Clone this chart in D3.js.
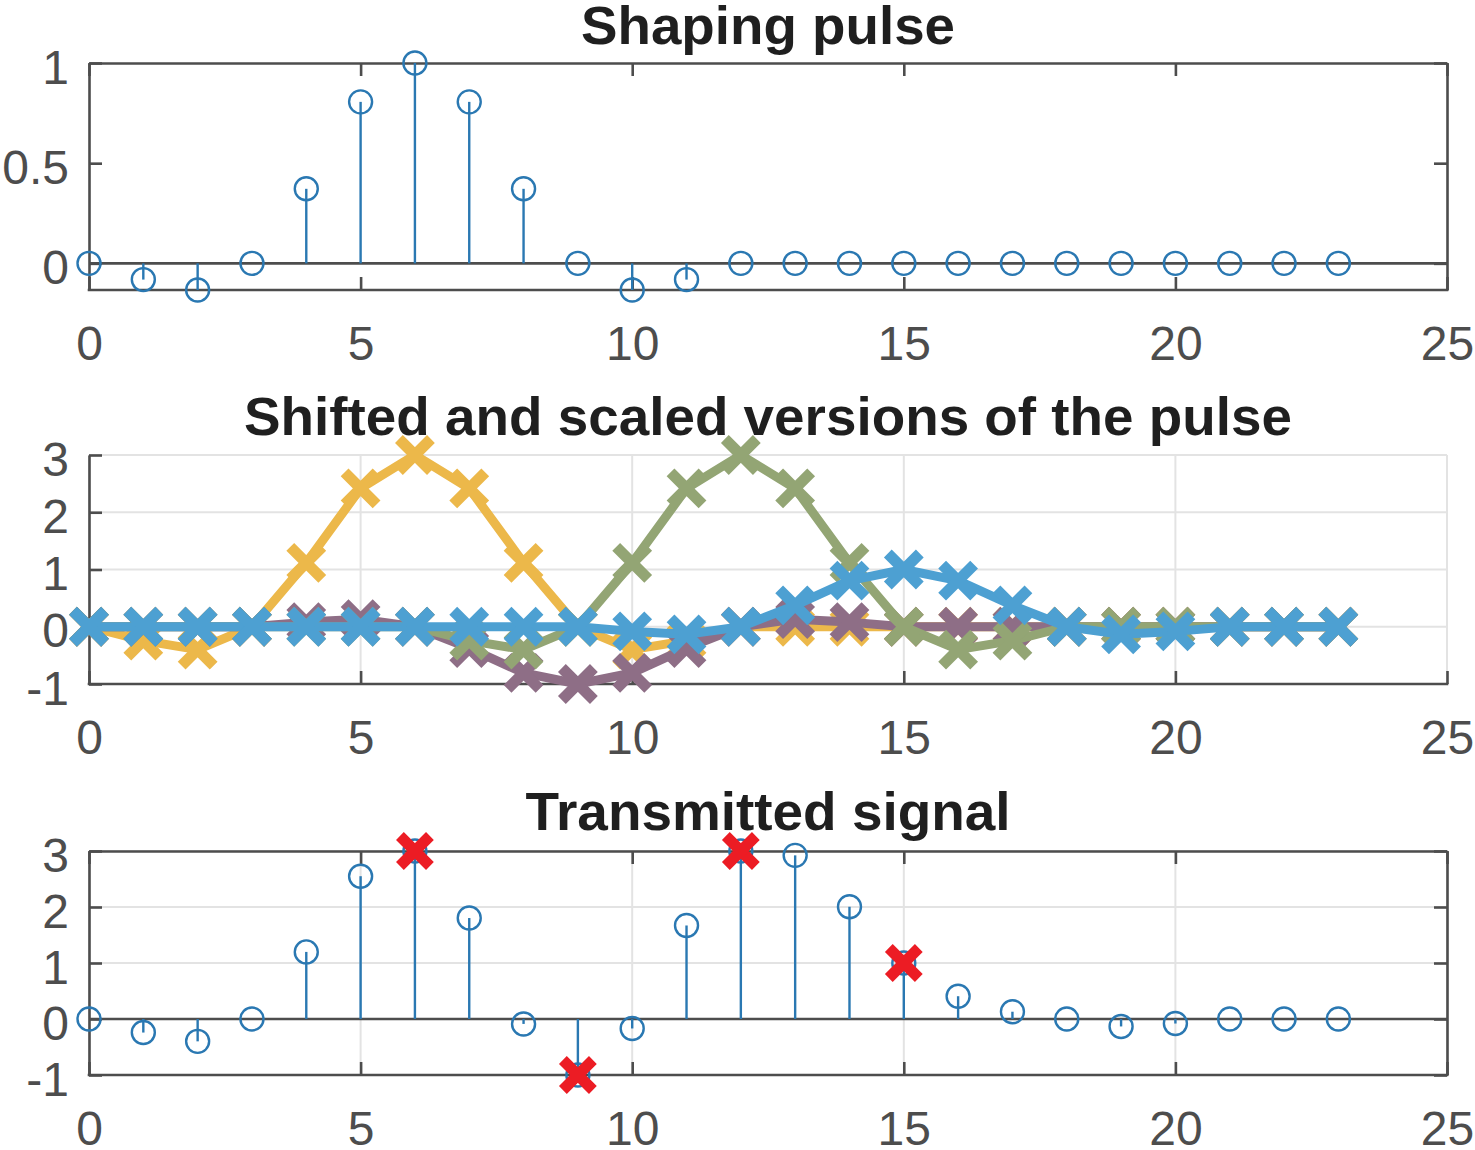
<!DOCTYPE html>
<html>
<head>
<meta charset="utf-8">
<script src="https://cdn.jsdelivr.net/npm/d3@7/dist/d3.min.js"></script>
<style>
  html, body { margin: 0; padding: 0; background: #fff; }
  svg { display: block; }
</style>
</head>
<body>
<svg id="chart" width="1475" height="1150"></svg>
<script>
// ---------------- DATA ----------------
const sampleIndex = [0,1,2,3,4,5,6,7,8,9,10,11,12,13,14,15,16,17,18,19,20,21,22,23];
const xTicks = [0,5,10,15,20,25];
const pulseYTicks = [0,0.5,1];
const signalYTicks = [-1,0,1,2,3];

const titles = ["Shaping pulse", "Shifted and scaled versions of the pulse", "Transmitted signal"];

// shaping pulse
const pulse = [0,-0.081,-0.133,0,0.372,0.806,1,0.806,0.372,0,-0.133,-0.081,0,0,0,0,0,0,0,0,0,0,0,0];

// shifted & scaled versions
const versionYellow = [0,-0.242,-0.399,0,1.117,2.417,3,2.417,1.117,0,-0.399,-0.242,0,0,0,0,0,0,0,0,0,0,0,0];
const versionPurple = [0,0,0,0,0.081,0.133,0,-0.372,-0.806,-1,-0.806,-0.372,0,0.133,0.081,0,0,0,0,0,0,0,0,0];
const versionGreen  = [0,0,0,0,0,0,0,-0.242,-0.399,0,1.117,2.417,3,2.417,1.117,0,-0.399,-0.242,0,0,0,0,0,0];
const versionBlue   = [0,0,0,0,0,0,0,0,0,0,-0.081,-0.133,0,0.372,0.806,1,0.806,0.372,0,-0.133,-0.081,0,0,0];

// transmitted signal
const transmitted = [0,-0.242,-0.399,0,1.198,2.55,3,1.803,-0.088,-1,-0.169,1.67,3,2.922,2.004,1,0.407,0.13,0,-0.133,-0.081,0,0,0];

// symbols
const symbolPos = [6,9,12,15];
const symbolVal = [3,-1,3,1];

// ---------------- STYLE ----------------
const axisColor = "#4d4d4d";
const gridColor = "#e3e3e3";
const stemColor = "#2a78b2";
const seriesColors = ["#ecb84a", "#8e6e86", "#93a574", "#4da0d2"];
const redX = "#ec1c24";
const tickFont = "'Liberation Sans', Arial, Helvetica, sans-serif";

const svg = d3.select("#chart");
const xLeft = 89, xRight = 1447;

function makePanel(cfg) {
  const g = svg.append("g");
  const x = d3.scaleLinear().domain([0,25]).range([xLeft, xRight]);
  const y = d3.scaleLinear().domain(cfg.yDomain).range([cfg.bottom, cfg.top]);

  // grid
  if (cfg.grid) {
    const gg = g.append("g");
    gg.selectAll("line.v").data(xTicks).enter().append("line")
      .attr("x1", d => x(d)).attr("x2", d => x(d))
      .attr("y1", y.range()[0]).attr("y2", y.range()[1])
      .attr("stroke", gridColor).attr("stroke-width", 2);
    gg.selectAll("line.h").data(cfg.yTicks).enter().append("line")
      .attr("x1", xLeft).attr("x2", xRight)
      .attr("y1", d => y(d)).attr("y2", d => y(d))
      .attr("stroke", gridColor).attr("stroke-width", 2);
  }

  const tk = 13;
  // bottom axis
  const ax = g.append("g").attr("transform", `translate(0,${cfg.bottom})`)
    .call(d3.axisBottom(x).tickValues(xTicks).tickSizeInner(-tk).tickSizeOuter(0).tickPadding(36).tickFormat(d => String(d)));
  // left axis
  const ay = g.append("g").attr("transform", `translate(${xLeft},0)`)
    .call(d3.axisLeft(y).tickValues(cfg.yTicks).tickSizeInner(-tk).tickSizeOuter(0).tickPadding(20).tickFormat(d => String(d)));
  ay.selectAll("text").attr("dy", "0.42em");
  [ax, ay].forEach(a => {
    a.selectAll("text").attr("fill", axisColor).style("font-family", tickFont).style("font-size", "48px");
  });
  const axes = [ax, ay];
  if (cfg.box) {
    const at = g.append("g").attr("transform", `translate(0,${cfg.top})`)
      .call(d3.axisTop(x).tickValues(xTicks).tickSizeInner(-tk).tickSizeOuter(0).tickFormat(""));
    const ar = g.append("g").attr("transform", `translate(${xRight},0)`)
      .call(d3.axisRight(y).tickValues(cfg.yTicks).tickSizeInner(-tk).tickSizeOuter(0).tickFormat(""));
    axes.push(at, ar);
  }
  axes.forEach(a => {
    a.select(".domain").attr("stroke", axisColor).attr("stroke-width", 2.6);
    a.selectAll(".tick line").attr("stroke", axisColor).attr("stroke-width", 2.6);
  });
  ax.select(".domain").attr("d", `M${xLeft - 1.3},0H${xRight + 1.3}`);

  // title
  g.append("text")
    .attr("x", (xLeft + xRight) / 2).attr("y", cfg.titleY)
    .attr("text-anchor", "middle")
    .attr("textLength", cfg.titleLen).attr("lengthAdjust", "spacingAndGlyphs")
    .style("font-family", tickFont).style("font-weight", "bold").style("font-size", "53px")
    .attr("fill", "#1f1f1f")
    .text(cfg.title);

  return {g, x, y};
}

function drawStem(p, values) {
  const {g, x, y} = p;
  // baseline
  g.append("line").attr("x1", xLeft).attr("x2", xRight).attr("y1", y(0)).attr("y2", y(0))
    .attr("stroke", axisColor).attr("stroke-width", 2.6);
  g.selectAll("line.stem").data(sampleIndex).enter().append("line")
    .attr("x1", d => x(d)).attr("x2", d => x(d))
    .attr("y1", y(0)).attr("y2", (d, i) => y(values[i]))
    .attr("stroke", stemColor).attr("stroke-width", 2.4);
  g.selectAll("circle.mk").data(sampleIndex).enter().append("circle")
    .attr("cx", d => x(d)).attr("cy", (d, i) => y(values[i])).attr("r", 11.5)
    .attr("fill", "none").attr("stroke", stemColor).attr("stroke-width", 2.4);
}

function xMarker(g, cx, cy, half, color, sw) {
  g.append("path")
    .attr("d", `M${cx - half},${cy - half}L${cx + half},${cy + half}M${cx - half},${cy + half}L${cx + half},${cy - half}`)
    .attr("stroke", color).attr("stroke-width", sw).attr("fill", "none");
}

// ---------------- PANEL 1 ----------------
const p1 = makePanel({yDomain: [-0.133, 1], top: 63, bottom: 290, yTicks: pulseYTicks, grid: false, box: true,
  title: titles[0], titleY: 44, titleLen: 374});
drawStem(p1, pulse);

// ---------------- PANEL 2 ----------------
const p2 = makePanel({yDomain: [-1, 3], top: 455, bottom: 684, yTicks: signalYTicks, grid: true, box: false,
  title: titles[1], titleY: 435, titleLen: 1048});
const versions = [versionYellow, versionPurple, versionGreen, versionBlue];
versions.forEach((vals, k) => {
  const line = d3.line().x(d => p2.x(d)).y((d, i) => p2.y(vals[i]));
  p2.g.append("path").datum(sampleIndex).attr("d", line)
    .attr("fill", "none").attr("stroke", seriesColors[k]).attr("stroke-width", 9)
    .attr("stroke-linejoin", "round");
  sampleIndex.forEach((d, i) => xMarker(p2.g, p2.x(d), p2.y(vals[i]), 16, seriesColors[k], 11));
});

// ---------------- PANEL 3 ----------------
const p3 = makePanel({yDomain: [-1, 3], top: 851, bottom: 1075, yTicks: signalYTicks, grid: true, box: true,
  title: titles[2], titleY: 830, titleLen: 485});
drawStem(p3, transmitted);
symbolPos.forEach((s, i) => xMarker(p3.g, p3.x(s), p3.y(symbolVal[i]), 15, redX, 11));
</script>
</body>
</html>
